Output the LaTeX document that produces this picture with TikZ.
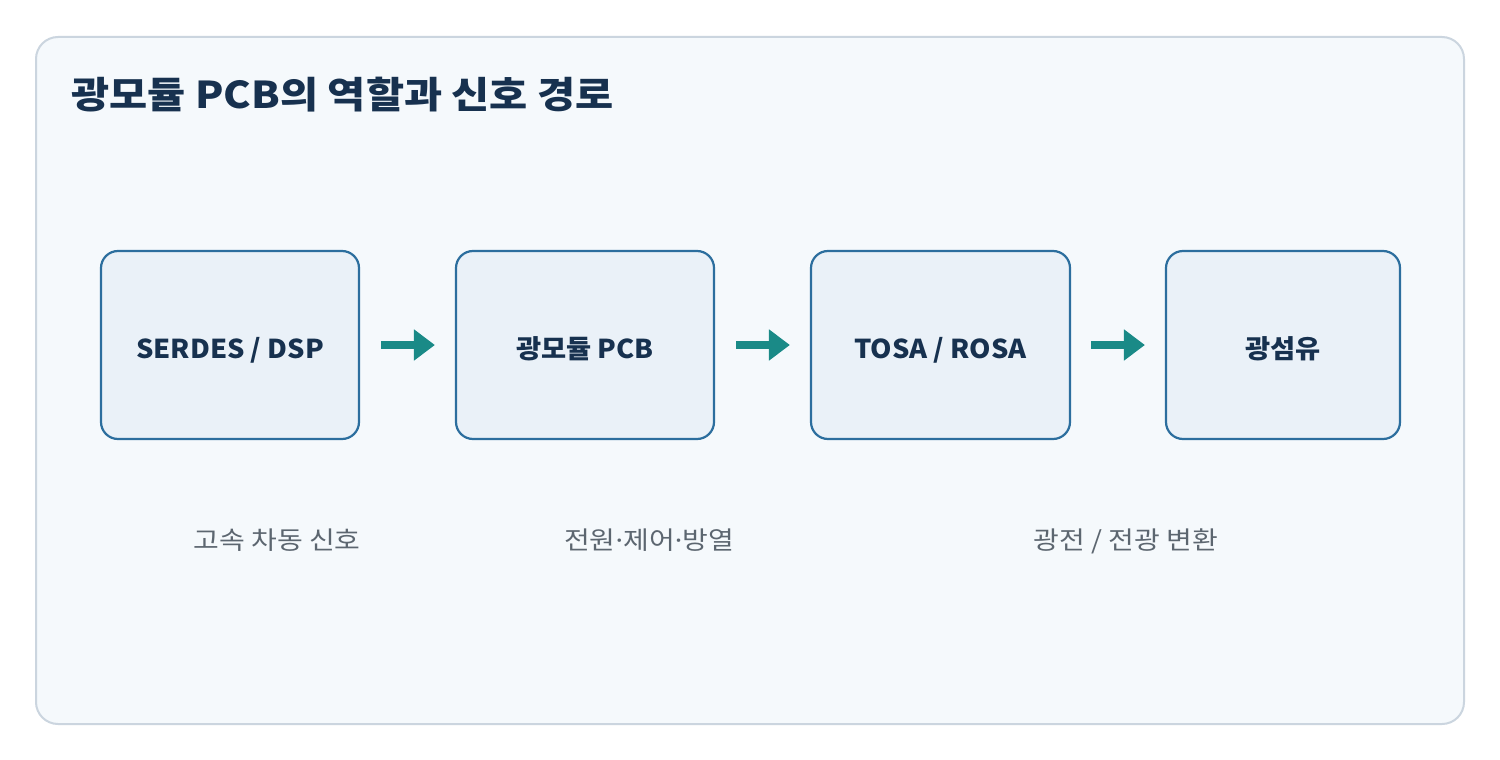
\documentclass[tikz,border=0pt]{standalone}
\usepackage{fontspec}
\setmainfont{Noto Sans CJK KR}
\newfontfamily\titlefont[FakeStretch=1.12]{Noto Sans CJK KR}
\newfontfamily\stagefont[FakeStretch=1.05]{Noto Sans CJK KR}
\newfontfamily\subfont[FakeStretch=1.12]{Noto Sans CJK KR}
\newfontfamily\dotfont[FakeStretch=1.12]{Noto Sans}
\usetikzlibrary{arrows.meta}
\definecolor{framefill}{HTML}{F5F9FC}
\definecolor{framedraw}{HTML}{CBD5DF}
\definecolor{boxfill}{HTML}{EAF1F8}
\definecolor{boxdraw}{HTML}{2C6E9E}
\definecolor{titlecol}{HTML}{17314F}
\definecolor{arrcol}{HTML}{1A8A87}
\definecolor{labcol}{HTML}{5C6670}
\newcommand{\mdot}{{\dotfont ·}}
\tikzset{
  stagebox/.style={draw=boxdraw, line width=2.2pt, fill=boxfill, rounded corners=17pt,
    minimum height=188pt, text=titlecol, font=\stagefont\fontsize{26}{30}\selectfont\bfseries,
    inner sep=0pt, text height=26pt, text depth=0pt},
  flowarr/.style={draw=arrcol, line width=8.5pt, -{Triangle[length=21pt,width=30pt]}, arrcol},
  sublabel/.style={text=labcol, font=\subfont\fontsize{25}{30}\selectfont, anchor=base}
}
\begin{document}
\begin{tikzpicture}[x=1pt,y=-1pt]
\useasboundingbox (0,0) rectangle (1500,760);
\fill[white] (0,0) rectangle (1500,760);
\draw[framedraw, line width=2pt, fill=framefill, rounded corners=22pt] (36,37) rectangle (1464,724);
\node[anchor=base west, text=titlecol, font=\titlefont\fontsize{37}{42}\selectfont\bfseries] (title) at (68,108) {광모듈 PCB의 역할과 신호 경로};
\node[stagebox, minimum width=258pt] (b1) at (230,345) {SERDES / DSP};
\node[stagebox, minimum width=258pt] (b2) at (585,345) {광모듈 PCB};
\node[stagebox, minimum width=259pt] (b3) at (940.5,345) {TOSA / ROSA};
\node[stagebox, minimum width=234pt] (b4) at (1283,345) {광섬유};
\draw[flowarr] ([xshift=21pt]b1.east) -- ([xshift=-20pt]b2.west);
\draw[flowarr] ([xshift=21pt]b2.east) -- ([xshift=-20pt]b3.west);
\draw[flowarr] ([xshift=20pt]b3.east) -- ([xshift=-20pt]b4.west);
\node[sublabel] (l1) at (277,549) {고속 차동 신호};
\node[sublabel] (l2) at (649,549) {전원\mdot 제어\mdot 방열};
\node[sublabel] (l3) at (1126,549) {광전 / 전광 변환};
\end{tikzpicture}
\end{document}
